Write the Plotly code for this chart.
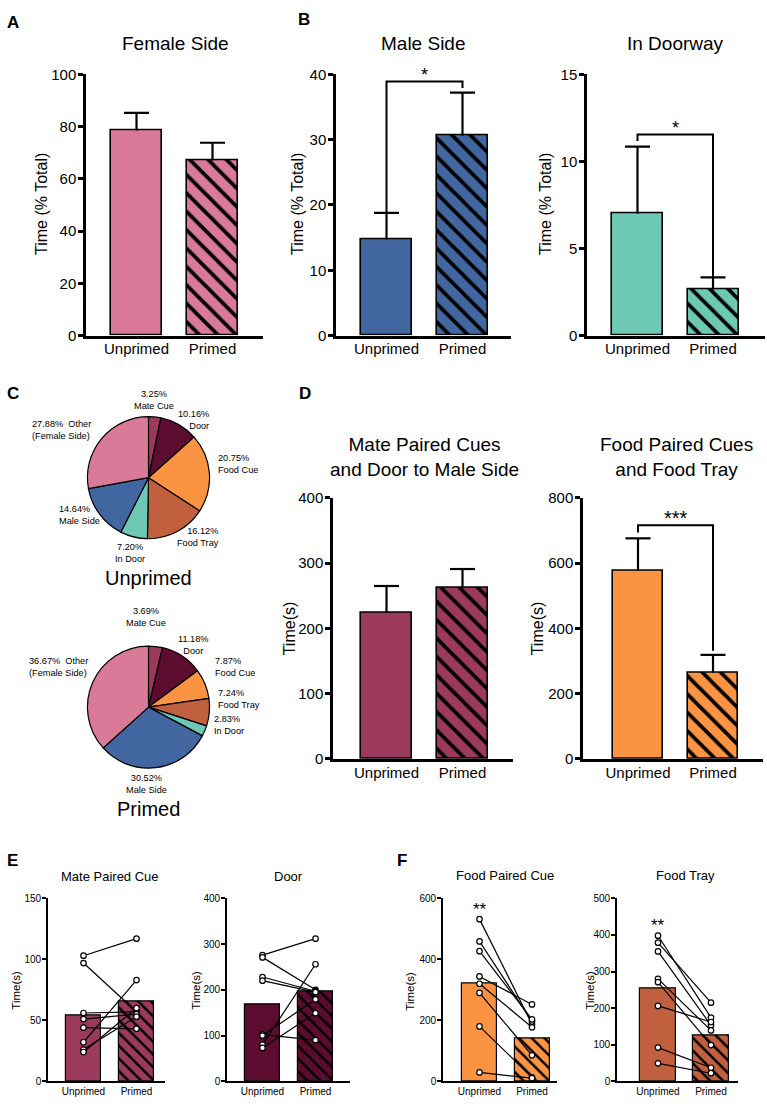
import plotly.graph_objects as go
import numpy as np

W, H = 767, 1106
FONT = "Liberation Sans, Arial, Helvetica, sans-serif"

# ---------------- data ----------------
categories = ["Unprimed", "Primed"]

female_side = [78.5, 67.0]
female_side_sem = [6.7, 6.8]
male_side = [14.7, 30.6]
male_side_sem = [4.1, 6.6]
in_doorway = [7.0, 2.64]
in_doorway_sem = [3.85, 0.7]

mate_door_time = [224, 262]
mate_door_sem = [41, 29]
food_tray_time = [576, 265]
food_tray_sem = [100, 54]

pie_labels = ["Mate Cue", "Door", "Food Cue", "Food Tray", "In Door", "Male Side", "Other"]
unprimed_pct = [3.25, 10.16, 20.75, 16.12, 7.20, 14.64, 27.88]
primed_pct = [3.69, 11.18, 7.87, 7.24, 2.83, 30.52, 36.67]

mate_cue_unprimed = [103, 97, 56, 51, 44, 32, 26, 24]
mate_cue_primed = [117, 57, 57, 55, 43, 83, 53, 60]
door_unprimed = [276, 271, 228, 220, 102, 100, 80, 73]
door_primed = [312, 200, 197, 195, 90, 179, 256, 149]
food_cue_unprimed = [532, 459, 427, 344, 320, 290, 180, 29]
food_cue_primed = [187, 196, 203, 252, 177, 85, 13, 10]
food_tray_unprimed = [398, 379, 355, 280, 271, 206, 92, 49]
food_tray_primed = [174, 215, 153, 139, 99, 162, 37, 22]

sig_male = ([18.75, 38.9, 37.9], "*")
sig_door = ([11.17, 11.55, 3.34], "*")
sig_food = ([694, 716, 332], "***")

PINK = "#d87a98"
BLUE = "#4267a0"
TEAL = "#6dc8b4"
MATE = "#9c3a5e"
DOOR = "#5c0c2e"
FOOD = "#fb9442"
TRAY = "#c0603f"
pie_colors = [MATE, DOOR, FOOD, TRAY, TEAL, BLUE, PINK]


def px(x):
    return x / W


def py(y):
    return 1 - y / H


fig = go.Figure()
layout = {}
annotations = []


def add_panel(idx, L, R, c0, c1, bw, ybot, ytop, ymax, dtick, values, color,
              sem=None, small=False, paired=None, hatch_size=13):
    xa = "xaxis" if idx == 1 else f"xaxis{idx}"
    ya = "yaxis" if idx == 1 else f"yaxis{idx}"
    xr = "x" if idx == 1 else f"x{idx}"
    yr = "y" if idx == 1 else f"y{idx}"
    s = c1 - c0
    xrange = [(L - c0) / s, 1 + (R - c1) / s]
    lw = 1.6 if small else 2.5
    tickfont = 10 if small else 15
    xtickfont = 10 if small else 15
    fig.add_trace(go.Bar(
        x=[0, 1], y=values, width=bw / s, xaxis=xr, yaxis=yr,
        marker=dict(
            color=color,
            line=dict(color="black", width=1.2 if small else 1.6),
            pattern=dict(shape=["", "\\"], fgcolor="black", bgcolor=color,
                         size=hatch_size, solidity=0.28, fillmode="replace"),
        ),
        showlegend=False, hoverinfo="skip",
    ))
    if sem is not None:
        hw = 12.5 / s
        ex, ey = [], []
        for i, (m, e) in enumerate(zip(values, sem)):
            ex += [i, i, None, i - hw, i + hw, None]
            ey += [m, m + e, None, m + e, m + e, None]
        fig.add_trace(go.Scatter(
            x=ex, y=ey, mode="lines", xaxis=xr, yaxis=yr,
            line=dict(color="black", width=2.2), showlegend=False, hoverinfo="skip",
        ))
    if paired is not None:
        a, b = paired
        xs, ys = [], []
        for u, p in zip(a, b):
            xs += [0, 1, None]
            ys += [u, p, None]
        fig.add_trace(go.Scatter(
            x=xs, y=ys, mode="lines+markers", xaxis=xr, yaxis=yr,
            line=dict(color="black", width=1.2),
            marker=dict(symbol="circle", size=5.5, color="white",
                        line=dict(color="black", width=1.2)),
            showlegend=False, hoverinfo="skip", connectgaps=False,
        ))
    layout[xa] = dict(
        domain=[px(L), px(R)], range=xrange, anchor=yr,
        showline=True, linecolor="black", linewidth=lw,
        ticks="", tickvals=[0, 1], ticktext=categories,
        tickfont=dict(size=xtickfont, color="black", family=FONT),
        ticklabelstandoff=0 if small else -2,
        showgrid=False, zeroline=False, fixedrange=True,
    )
    layout[ya] = dict(
        domain=[py(ybot), py(ytop)], range=[0, ymax], anchor=xr,
        showline=True, linecolor="black", linewidth=lw,
        ticks="outside", ticklen=4 if small else 5, tickwidth=lw, tickcolor="black",
        dtick=dtick, tick0=0, ticklabelstandoff=-1,
        tickfont=dict(size=tickfont, color="black", family=FONT),
        showgrid=False, zeroline=False, fixedrange=True,
    )
    return xr, yr


def bracket(xr, yr, sig, size=18):
    (a, h, b), label = sig
    fig.add_trace(go.Scatter(
        x=[0, 0, 1, 1], y=[a, h, h, b], mode="lines", xaxis=xr, yaxis=yr,
        line=dict(color="black", width=2), showlegend=False, hoverinfo="skip",
    ))
    annotations.append(dict(
        x=0.5, y=h, xref=xr, yref=yr, text=label, showarrow=False,
        yanchor="bottom", yshift=-6, font=dict(size=size, color="black", family=FONT),
    ))


def text(x, y, t, size, bold=False, xanchor="center", align="center", angle=0):
    annotations.append(dict(
        x=px(x), y=py(y), xref="paper", yref="paper", text=(f"<b>{t}</b>" if bold else t),
        showarrow=False, xanchor=xanchor, yanchor="middle", align=align,
        textangle=angle, font=dict(size=size, color="black", family=FONT),
    ))


add_panel(1, 86, 263, 136.5, 212.5, 51, 331.7, 66.3, 100, 20, female_side, PINK, female_side_sem)
xr, yr = add_panel(2, 336, 511, 386.5, 462.5, 51, 331.7, 66.3, 40, 10, male_side, BLUE, male_side_sem)
bracket(xr, yr, sig_male)
xr, yr = add_panel(3, 587, 765, 637.5, 713, 51, 331.7, 66.3, 15, 5, in_doorway, TEAL, in_doorway_sem)
bracket(xr, yr, sig_door)

add_panel(4, 333, 513, 386.5, 462.5, 51, 761.7, 496.5, 400, 100, mate_door_time, MATE, mate_door_sem)
xr, yr = add_panel(5, 583, 763, 638, 713, 50, 761.7, 496.5, 800, 200, food_tray_time, FOOD, food_tray_sem)
bracket(xr, yr, sig_food, size=20)


def mean(v):
    return float(np.mean(v))


add_panel(6, 48, 165, 83.5, 136.5, 35, 1089, 903.3, 150, 50,
          [mean(mate_cue_unprimed), mean(mate_cue_primed)], MATE, small=True,
          paired=(mate_cue_unprimed, mate_cue_primed), hatch_size=9)
add_panel(7, 227, 350, 262.5, 315.5, 35, 1089, 903.3, 400, 100,
          [mean(door_unprimed), mean(door_primed)], DOOR, small=True,
          paired=(door_unprimed, door_primed), hatch_size=9)
xr8, yr8 = add_panel(8, 443, 557, 479.5, 532, 35, 1089, 903.3, 600, 200,
                     [mean(food_cue_unprimed), mean(food_cue_primed)], FOOD, small=True,
                     paired=(food_cue_unprimed, food_cue_primed), hatch_size=9)
xr9, yr9 = add_panel(9, 617, 738, 658, 711, 36, 1089, 903.3, 500, 100,
                     [mean(food_tray_unprimed), mean(food_tray_primed)], TRAY, small=True,
                     paired=(food_tray_unprimed, food_tray_primed), hatch_size=9)
annotations.append(dict(x=0, y=565, xref=xr8, yref=yr8, text="**", showarrow=False,
                        yanchor="middle", font=dict(size=17, color="black", family=FONT)))
annotations.append(dict(x=0, y=425, xref=xr9, yref=yr9, text="**", showarrow=False,
                        yanchor="middle", font=dict(size=17, color="black", family=FONT)))

for vals, (cx, cy) in [(unprimed_pct, (148.5, 476)), (primed_pct, (148.5, 709))]:
    r = 62
    fig.add_trace(go.Pie(
        values=vals, labels=pie_labels, sort=False, direction="clockwise", rotation=0,
        marker=dict(colors=pie_colors, line=dict(color="black", width=1.2)),
        textinfo="none", hoverinfo="skip", showlegend=False,
        domain=dict(x=[px(cx - r), px(cx + r)], y=[py(cy + r), py(cy - r)]),
    ))


def pct(v):
    return f"{v:.2f}%"


PF = 9.2
u = dict(zip(pie_labels, unprimed_pct))
text(154, 397, f"{pct(u['Mate Cue'])}<br>Mate Cue", PF)
text(211, 417, f"{pct(u['Door'])}<br>Door", PF, xanchor="right", align="right")
text(216, 462, f"{pct(u['Food Cue'])}<br>Food Cue", PF, xanchor="left", align="left")
text(221, 536, f"{pct(u['Food Tray'])}<br>Food Tray", PF, xanchor="right", align="right")
text(130, 552, f"{pct(u['In Door'])}<br>In Door", PF)
text(57, 514, f"{pct(u['Male Side'])}<br>Male Side", PF, xanchor="left", align="left")
text(30, 428, f"{pct(u['Other'])}  Other<br>(Female Side)", PF, xanchor="left", align="left")
text(148, 578, "Unprimed", 20)

p = dict(zip(pie_labels, primed_pct))
text(146, 617, f"{pct(p['Mate Cue'])}<br>Mate Cue", PF)
text(193, 646, f"{pct(p['Door'])}<br>Door", PF)
text(213, 668, f"{pct(p['Food Cue'])}<br>Food Cue", PF, xanchor="left", align="left")
text(216, 701, f"{pct(p['Food Tray'])}<br>Food Tray", PF, xanchor="left", align="left")
text(212, 727, f"{pct(p['In Door'])}<br>In Door", PF, xanchor="left", align="left")
text(27, 668, f"{pct(p['Other'])}  Other<br>(Female Side)", PF, xanchor="left", align="left")
text(146, 787, f"{pct(p['Male Side'])}<br>Male Side", PF)
text(148, 812, "Primed", 20)

text(175, 35, "Female Side", 19)
text(423, 35, "Male Side", 19)
text(675, 35, "In Doorway", 19)
text(424, 455, "Mate Paired Cues<br>and Door to Male Side", 19)
text(676, 455, "Food Paired Cues<br>and Food Tray", 19)
text(110, 881, "Mate Paired Cue", 13)
text(288, 881, "Door", 13)
text(505, 880, "Food Paired Cue", 13)
text(685, 880, "Food Tray", 13)

text(42, 198, "Time (% Total)", 16, angle=-90)
text(298, 198, "Time (% Total)", 16, angle=-90)
text(546, 198, "Time (% Total)", 16, angle=-90)
text(289, 629, "Time(s)", 16, angle=-90)
text(537, 629, "Time(s)", 16, angle=-90)
text(16, 997, "Time(s)", 11.5, angle=-90)
text(196, 997, "Time(s)", 11.5, angle=-90)
text(410, 997, "Time(s)", 11.5, angle=-90)
text(590, 997, "Time(s)", 11.5, angle=-90)

text(13, 14, "A", 17, bold=True)
text(304, 11, "B", 17, bold=True)
text(13, 391, "C", 17, bold=True)
text(305, 391, "D", 17, bold=True)
text(12, 865, "E", 17, bold=True)
text(402, 865, "F", 17, bold=True)

fig.update_layout(
    width=W, height=H, margin=dict(l=0, r=0, t=0, b=0),
    paper_bgcolor="white", plot_bgcolor="white",
    font=dict(family=FONT, color="black"),
    showlegend=False, bargap=0,
    annotations=annotations,
    **layout,
)

fig.write_html("out.html", config={"displayModeBar": False},
               post_script="document.body.style.margin='0';document.documentElement.style.margin='0';")
